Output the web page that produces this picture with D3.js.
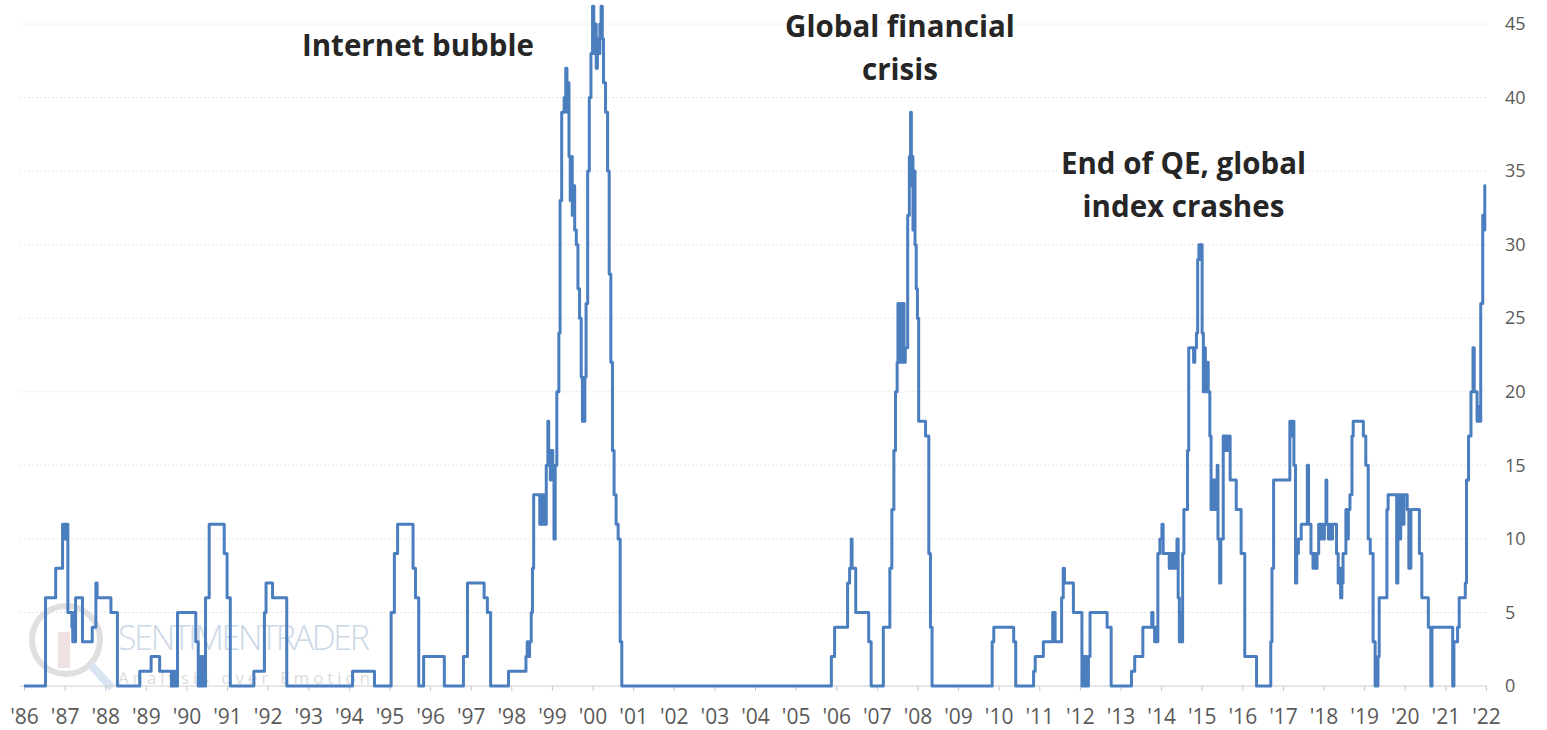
<!DOCTYPE html>
<html><head><meta charset="utf-8">
<script src="https://cdn.jsdelivr.net/npm/d3@7"></script>
<style>
html,body{margin:0;padding:0;background:#fff;}
svg{display:block;font-family:"Open Sans","Noto Sans",sans-serif;}
</style></head>
<body>
<svg id="chart" width="1547" height="730"></svg>
<script>
// ---- data ----
const years = [1986.0,1986.53,1986.78,1986.95,1986.98,1987.0,1987.03,1987.05,1987.08,1987.18,1987.2,1987.22,1987.24,1987.27,1987.44,1987.68,1987.77,1987.8,1988.14,1988.3,1988.85,1989.13,1989.34,1989.63,1989.66,1989.69,1989.72,1989.75,1989.78,1990.23,1990.29,1990.33,1990.36,1990.4,1990.43,1990.47,1990.56,1990.93,1991.0,1991.08,1991.66,1991.92,1991.96,1992.12,1992.47,1994.09,1994.63,1995.04,1995.12,1995.2,1995.58,1995.64,1995.72,1995.84,1996.35,1996.82,1996.92,1997.33,1997.41,1997.49,1997.93,1998.36,1998.39,1998.42,1998.45,1998.49,1998.52,1998.55,1998.7,1998.72,1998.76,1998.78,1998.83,1998.86,1998.9,1998.92,1998.94,1998.96,1998.98,1999.02,1999.05,1999.08,1999.12,1999.17,1999.2,1999.24,1999.3,1999.34,1999.37,1999.39,1999.42,1999.45,1999.47,1999.5,1999.53,1999.56,1999.6,1999.64,1999.68,1999.72,1999.75,1999.77,1999.79,1999.81,1999.84,1999.88,1999.92,1999.96,2000.0,2000.03,2000.06,2000.09,2000.12,2000.15,2000.18,2000.21,2000.24,2000.27,2000.32,2000.37,2000.41,2000.45,2000.49,2000.53,2000.58,2000.63,2000.68,2000.72,2005.88,2005.96,2006.28,2006.33,2006.37,2006.39,2006.48,2006.8,2006.86,2007.16,2007.32,2007.37,2007.42,2007.46,2007.5,2007.52,2007.55,2007.58,2007.61,2007.64,2007.67,2007.7,2007.76,2007.8,2007.83,2007.85,2007.87,2007.89,2007.91,2007.94,2007.97,2008.0,2008.03,2008.2,2008.28,2008.32,2008.36,2009.84,2009.88,2010.37,2010.42,2010.86,2010.9,2011.1,2011.33,2011.39,2011.55,2011.59,2011.62,2011.84,2012.05,2012.08,2012.11,2012.14,2012.17,2012.21,2012.25,2012.67,2012.77,2013.27,2013.35,2013.55,2013.77,2013.8,2013.84,2013.87,2013.9,2013.92,2013.97,2014.02,2014.05,2014.2,2014.23,2014.26,2014.3,2014.35,2014.39,2014.42,2014.45,2014.48,2014.5,2014.53,2014.56,2014.65,2014.68,2014.8,2014.83,2014.87,2014.9,2014.93,2014.96,2014.98,2015.01,2015.04,2015.06,2015.09,2015.12,2015.16,2015.2,2015.23,2015.26,2015.29,2015.32,2015.35,2015.38,2015.4,2015.44,2015.47,2015.53,2015.56,2015.59,2015.62,2015.66,2015.7,2015.85,2015.97,2016.06,2016.35,2016.7,2016.73,2016.77,2017.17,2017.2,2017.23,2017.27,2017.31,2017.34,2017.38,2017.45,2017.6,2017.63,2017.69,2017.74,2017.77,2017.8,2017.84,2017.88,2017.92,2017.95,2017.98,2018.02,2018.06,2018.08,2018.12,2018.15,2018.18,2018.22,2018.32,2018.36,2018.39,2018.42,2018.45,2018.48,2018.55,2018.58,2018.61,2018.65,2018.7,2018.73,2018.98,2019.04,2019.1,2019.15,2019.22,2019.27,2019.34,2019.37,2019.56,2019.59,2019.8,2019.83,2019.87,2019.9,2019.94,2019.98,2020.06,2020.1,2020.15,2020.36,2020.42,2020.58,2020.64,2020.67,2021.18,2021.21,2021.3,2021.34,2021.49,2021.52,2021.57,2021.63,2021.68,2021.71,2021.78,2021.81,2021.84,2021.87,2021.92,2021.95,2021.97,2022.0];
const values = [0,6,8,11,10,11,10,11,5,4,3,5,3,6,3,4,7,6,5,0,1,2,1,0,1,0,1,0,5,3,0,2,0,2,0,6,11,9,6,0,1,5,7,6,0,1,0,5,9,11,8,6,0,2,0,2,7,6,5,0,1,2,3,2,3,5,8,13,11,13,11,13,11,15,18,15,16,14,16,15,10,15,20,24,33,39,40,42,39,41,36,33,36,32,34,31,30,27,25,21,18,20,18,21,26,35,40,43,46.2,43,45,42,44,43,45,46.2,44,41,39,35,28,22,16,13,11,10,3,0,2,4,7,8,10,8,5,3,0,4,8,12,16,20,22,26,22,26,22,26,22,23,32,36,39,34,36,31,35,30,27,25,18,17,9,4,0,3,4,3,0,1,2,3,5,3,6,8,7,5,0,2,0,2,0,2,5,4,0,1,2,4,5,4,3,4,3,9,10,11,9,8,9,8,9,8,10,6,3,5,3,9,12,16,23,22,23,24,29,30,29,30,24,20,23,20,22,20,17,12,14,12,14,12,15,10,7,10,17,16,17,16,17,14,12,9,2,0,3,8,14,18,17,18,15,7,9,10,11,15,11,9,8,9,8,9,11,10,11,10,11,14,11,10,11,10,11,9,7,8,6,7,9,12,10,12,13,17,18,17,15,10,9,3,0,2,6,12,13,7,13,10,13,11,13,12,8,12,9,6,4,0,4,0,3,4,6,7,14,17,20,23,20,18,19,18,26,32,31,34,34];
const xTickYears = d3.range(1986, 2023);
const xTickLabels = xTickYears.map(y => "'" + String(y).slice(2));
const yTicks = [0,5,10,15,20,25,30,35,40,45];
const annotations = [
  {lines:["Internet bubble"], year:1995.7, value:42.8},
  {lines:["Global financial","crisis"], year:2007.57, value:44.1},
  {lines:["End of QE, global","index crashes"], year:2014.55, value:34.8}
];

// ---- chart ----
const svg = d3.select("#chart");
const x = d3.scaleLinear().domain([1986, 2022]).range([24, 1486]);
const y = d3.scaleLinear().domain([0, 45]).range([686, 24]);

// gridlines
svg.append("g").selectAll("line").data(yTicks.filter(d=>d>0)).join("line")
  .attr("x1", 20).attr("x2", 1487)
  .attr("y1", d=>y(d)).attr("y2", d=>y(d))
  .attr("stroke", "#e6e6e6").attr("stroke-width", 1).attr("stroke-dasharray", "2,2");

// watermark
const wm = svg.append("g").attr("opacity", 0.7);
wm.append("circle").attr("cx", 66).attr("cy", 640).attr("r", 34)
  .attr("fill","none").attr("stroke","#d2d2d2").attr("stroke-width",6);
wm.append("rect").attr("x", 58).attr("y", 632).attr("width", 12).attr("height", 36).attr("fill","#ead6d6");
wm.append("line").attr("x1", 90).attr("y1", 664).attr("x2", 112).attr("y2", 688)
  .attr("stroke","#c9dbee").attr("stroke-width",8);
wm.append("text").attr("x", 118).attr("y", 650).attr("font-size", 34)
  .attr("fill", "#b7c8dc").attr("font-weight", 300).attr("textLength", 252).text("SENTIMENTRADER");
wm.append("text").attr("x", 118).attr("y", 684).attr("font-size", 17)
  .attr("fill", "#d0d0d0").attr("textLength", 252).text("Analysis over Emotion");

// annotations
const ag = svg.append("g");
annotations.forEach(a => {
  const cx = x(a.year), ty = y(a.value);
  a.lines.forEach((l, i) => {
    ag.append("text").attr("x", cx).attr("y", ty + i*43)
      .attr("text-anchor","middle").attr("font-size", 29.5).attr("font-weight", 700)
      .attr("fill", "#262626").text(l);
  });
});

// x axis
const xAxis = d3.axisBottom(x).tickValues(xTickYears)
  .tickFormat((d,i)=>xTickLabels[i]).tickSize(5).tickPadding(18);
const gx = svg.append("g").attr("transform", `translate(0,${y(0)})`).call(xAxis);
gx.select(".domain").attr("stroke","#d0d0d0").attr("d", "M20,0H1487");
gx.selectAll(".tick line").attr("stroke","#c8c8c8");
gx.selectAll("text").attr("font-size", 21).attr("fill", "#595959")
  .attr("font-family", '"Open Sans","Noto Sans",sans-serif');

// y axis (labels on right)
const yAxis = d3.axisRight(y).tickValues(yTicks).tickSize(0).tickPadding(0);
const gy = svg.append("g").attr("transform", "translate(1505,0)").call(yAxis);
gy.select(".domain").remove();
gy.selectAll("text").attr("font-size", 18).attr("fill", "#595959")
  .attr("font-family", '"Open Sans","Noto Sans",sans-serif');

// line
const data = years.map((t,i)=>({t, v: values[i]}));
const line = d3.line().x(d=>x(d.t)).y(d=>y(d.v)).curve(d3.curveStepAfter);
svg.append("path").datum(data).attr("d", line)
  .attr("fill","none").attr("stroke","#4a7ebf").attr("stroke-width", 3)
  .attr("stroke-linejoin","round");
</script>
</body></html>
